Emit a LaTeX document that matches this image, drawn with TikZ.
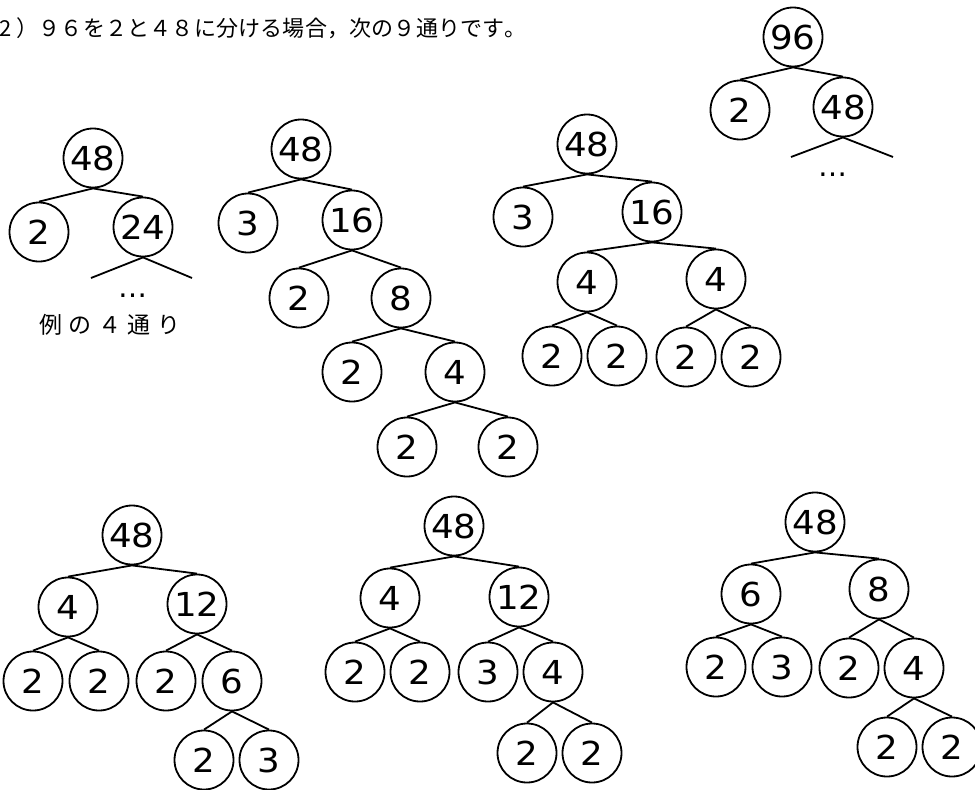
\documentclass[tikz,border=0pt]{standalone}
\usepackage{fontspec}
\newfontfamily\jpfont{Noto Sans CJK JP}
\newfontfamily\numfont[FakeStretch=1.08]{DejaVu Sans}
\newfontfamily\dotfont{DejaVu Sans}
\makeatletter
\newcommand\pitched[2]{\@tfor\pch:=#2\do{\makebox[#1][c]{\pch}}}
\makeatother
\tikzset{
  num/.style={circle,draw,line width=1.8pt,minimum size=59pt,inner sep=0pt,
    font=\numfont\fontsize{33}{33}\selectfont},
  edge/.style={line width=1.8pt},
  jptext/.style={inner sep=0pt,font=\jpfont\fontsize{22}{22}\selectfont},
  jplabel/.style={inner sep=0pt,font=\jpfont\fontsize{23}{23}\selectfont},
  dots/.style={inner sep=0pt,font=\dotfont\fontsize{29}{29}\selectfont}
}
\begin{document}
\begin{tikzpicture}[x=1pt,y=-1pt]
\useasboundingbox (0,0) rectangle (975,790);
% header
\node[jptext,anchor=base west] (head) at (-6,36) {\pitched{22.2pt}{2）９６を２と４８に分ける場合，次の９通りです。}};
% tree A
\node[num] (a96) at (793,37) {96};
\node[num] (a2) at (740,110) {2};
\node[num] (a48) at (843,107) {48};
\coordinate (aL) at (791,157);
\coordinate (aR) at (893,157);
\node[dots,anchor=base] (adots) at (833,176) {…};
\draw[edge] (a96.south) -- (a2.north);
\draw[edge] (a96.south) -- (a48.north);
\draw[edge] (a48.south) -- (aL);
\draw[edge] (a48.south) -- (aR);
% tree B
\node[num] (b48) at (93,158) {48};
\node[num] (b2) at (39,232) {2};
\node[num] (b24) at (143,227) {24};
\coordinate (bL) at (91,278);
\coordinate (bR) at (192,278);
\node[dots,anchor=base] (bdots) at (133,297) {…};
\node[jplabel] (blabel) at (110,325) {\pitched{29.5pt}{例の４通り}};
\draw[edge] (b48.south) -- (b2.north);
\draw[edge] (b48.south) -- (b24.north);
\draw[edge] (b24.south) -- (bL);
\draw[edge] (b24.south) -- (bR);
% tree C
\node[num] (c48) at (301,149) {48};
\node[num] (c3) at (248,223) {3};
\node[num] (c16) at (352,220) {16};
\node[num] (c2a) at (299,298) {2};
\node[num] (c8) at (401,298) {8};
\node[num] (c2b) at (352,372) {2};
\node[num] (c4) at (455,372) {4};
\node[num] (c2c) at (407,447) {2};
\node[num] (c2d) at (508,447) {2};
\foreach \p/\c in {c48/c3,c48/c16,c16/c2a,c16/c8,c8/c2b,c8/c4,c4/c2c,c4/c2d}
  \draw[edge] (\p.south) -- (\c.north);
% tree D
\node[num] (d48) at (587,144) {48};
\node[num] (d3) at (523,217) {3};
\node[num] (d16) at (652,212) {16};
\node[num] (d4a) at (587,282) {4};
\node[num] (d4b) at (716,279) {4};
\node[num] (d2a) at (552,356) {2};
\node[num] (d2b) at (617,356) {2};
\node[num] (d2c) at (686,357) {2};
\node[num] (d2d) at (751,357) {2};
\foreach \p/\c in {d48/d3,d48/d16,d16/d4a,d16/d4b,d4a/d2a,d4a/d2b,d4b/d2c,d4b/d2d}
  \draw[edge] (\p.south) -- (\c.north);
% tree E
\node[num] (e48) at (132,535) {48};
\node[num] (e4) at (68,607) {4};
\node[num] (e12) at (197,604) {12};
\node[num] (e2a) at (33,681) {2};
\node[num] (e2b) at (99,681) {2};
\node[num] (e2c) at (166,681) {2};
\node[num] (e6) at (232,681) {6};
\node[num] (e2d) at (204,760) {2};
\node[num] (e3) at (269,760) {3};
\foreach \p/\c in {e48/e4,e48/e12,e4/e2a,e4/e2b,e12/e2c,e12/e6,e6/e2d,e6/e3}
  \draw[edge] (\p.south) -- (\c.north);
% tree F
\node[num] (f48) at (454,526) {48};
\node[num] (f4) at (390,598) {4};
\node[num] (f12) at (519,597) {12};
\node[num] (f2a) at (355,672) {2};
\node[num] (f2b) at (420,672) {2};
\node[num] (f3) at (488,672) {3};
\node[num] (f4b) at (553,672) {4};
\node[num] (f2c) at (527,753) {2};
\node[num] (f2d) at (592,753) {2};
\foreach \p/\c in {f48/f4,f48/f12,f4/f2a,f4/f2b,f12/f3,f12/f4b,f4b/f2c,f4b/f2d}
  \draw[edge] (\p.south) -- (\c.north);
% tree G
\node[num] (g48) at (815,522) {48};
\node[num] (g6) at (751,594) {6};
\node[num] (g8) at (879,589) {8};
\node[num] (g2a) at (716,667) {2};
\node[num] (g3) at (782,667) {3};
\node[num] (g2b) at (849,668) {2};
\node[num] (g4) at (914,668) {4};
\node[num] (g2c) at (887,747) {2};
\node[num] (g2d) at (952,747) {2};
\foreach \p/\c in {g48/g6,g48/g8,g6/g2a,g6/g3,g8/g2b,g8/g4,g4/g2c,g4/g2d}
  \draw[edge] (\p.south) -- (\c.north);
\end{tikzpicture}
\end{document}
